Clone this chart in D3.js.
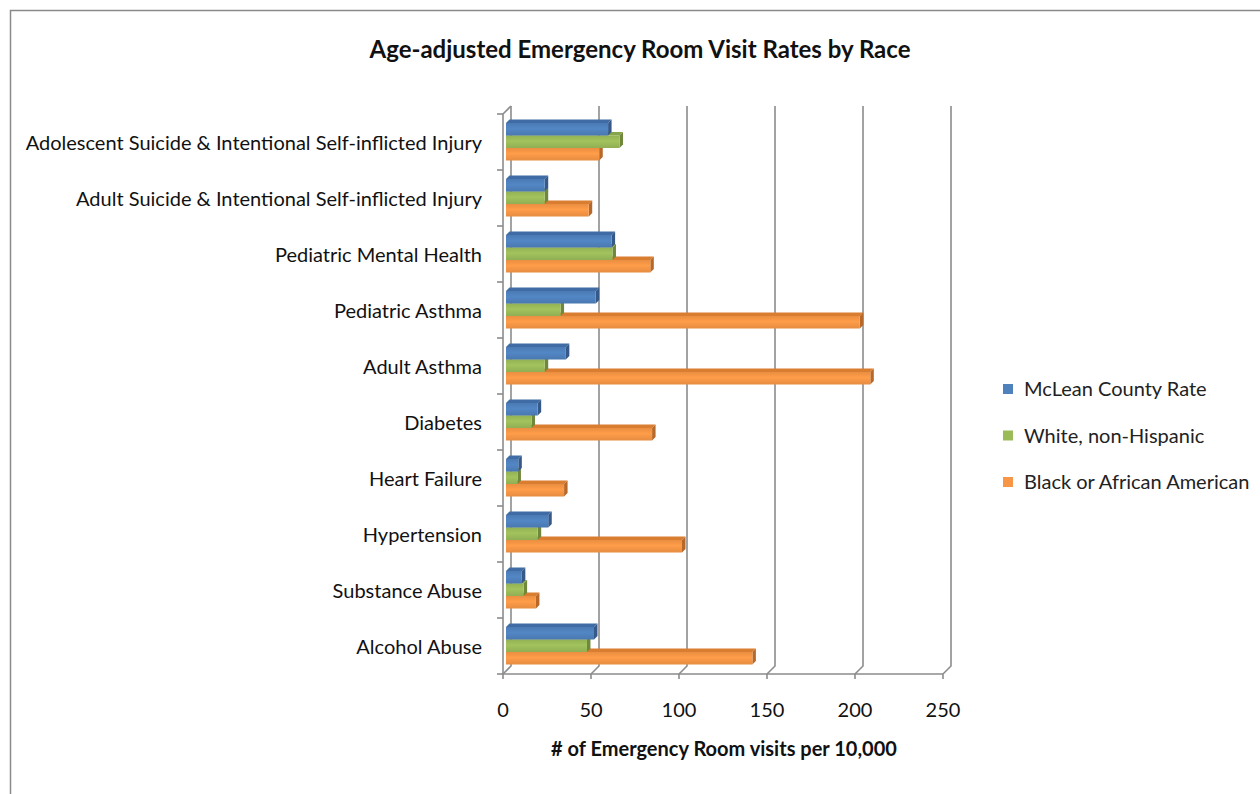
<!DOCTYPE html>
<html><head><meta charset="utf-8">
<script src="https://cdn.jsdelivr.net/npm/d3@7"></script>
<style>body{margin:0;background:#fff}svg{display:block}</style>
</head><body>
<svg id="c" width="1260" height="794"></svg>
<script>
const title = "Age-adjusted Emergency Room Visit Rates by Race";
const xTitle = "# of Emergency Room visits per 10,000";
const categories = ["Adolescent Suicide & Intentional Self-inflicted Injury","Adult Suicide & Intentional Self-inflicted Injury","Pediatric Mental Health","Pediatric Asthma","Adult Asthma","Diabetes","Heart Failure","Hypertension","Substance Abuse","Alcohol Abuse"];
const seriesNames = ["McLean County Rate","White, non-Hispanic","Black or African American"];
const mclean = [58,22,60,51,34,18,7,24,9,50];
const white = [64.5,22,60.5,31,22,14.5,6.5,18,10,46];
const black = [53,47,82,201,207,83,33,100,17,140];
const xTicks = [0,50,100,150,200,250];

const colors = ["#4f81bd","#9bbb59","#f79646"];
const sides = ["#36598a","#6f883c","#b8692a"];
const tops = ["#3f6ca5","#86a549","#d97d31"];
const series = [mclean, white, black];

const svg = d3.select("#c");
const defs = svg.append("defs");
colors.forEach((c,i)=>{
  const g = defs.append("linearGradient").attr("id","g"+i).attr("x1",0).attr("x2",0).attr("y1",0).attr("y2",1);
  const cc = d3.color(c);
  g.append("stop").attr("offset","0%").attr("stop-color",cc.darker(0.15));
  g.append("stop").attr("offset","45%").attr("stop-color",cc.brighter(0.12));
  g.append("stop").attr("offset","100%").attr("stop-color",cc.darker(0.2));
});

// outer border
svg.append("rect").attr("x",10.5).attr("y",10.5).attr("width",1300).attr("height",900)
  .attr("fill","none").attr("stroke","#8a8a8a").attr("stroke-width",1.5);

const x = d3.scaleLinear().domain([0,250]).range([503,943]);
const y = d3.scaleBand().domain(categories).range([114,674]);
const dx = 8, dy = -8; // wall depth
const bd = 3.5; // bar depth
const bz = 3;   // bar position in depth

const grid = svg.append("g").attr("stroke","#8c8c8c").attr("stroke-width",1.6).attr("fill","none");
xTicks.forEach(t=>{
  const px = x(t);
  grid.append("path").attr("d",`M${px+dx},${114+dy}V${674+dy}L${px},674V679`);
});
// front left axis
grid.append("path").attr("d",`M${x(0)},114V674H${x(250)}`);
grid.append("path").attr("d",`M${x(0)},114L${x(0)+dx},${114+dy}`);
categories.concat([null]).forEach((c,i)=>{
  const yy = 114 + i*y.step();
  grid.append("line").attr("x1",x(0)-6).attr("x2",x(0)).attr("y1",yy).attr("y2",yy);
});

// bars (draw bottom series first so upper bars cover hidden top faces)
const bars = svg.append("g");
const bh = 12.5, off = 9;
categories.forEach((c,ci)=>{
  [2,1,0].forEach(si=>{
    const v = series[si][ci];
    const x0 = x(0)+bz, x1 = x(v)+bz;
    const y0 = y(c)+off+si*bh, y1 = y0+bh;
    bars.append("path").attr("fill",tops[si])
      .attr("d",`M${x0},${y0}L${x0+bd},${y0-bd}L${x1+bd},${y0-bd}L${x1},${y0}Z`);
    bars.append("path").attr("fill",sides[si])
      .attr("d",`M${x1},${y0}L${x1+bd},${y0-bd}L${x1+bd},${y1-bd}L${x1},${y1}Z`);
    bars.append("rect").attr("x",x0).attr("y",y0).attr("width",x1-x0).attr("height",bh)
      .attr("fill",`url(#g${si})`);
  });
});

const font = "Lato, 'Open Sans', sans-serif";
// category labels
svg.append("g").selectAll("text").data(categories).join("text")
  .attr("x",482).attr("y",d=>y(d)+y.bandwidth()/2+3).attr("text-anchor","end")
  .attr("dominant-baseline","middle").attr("font-family",font).attr("font-size",20).attr("fill","#111")
  .text(d=>d);
// x tick labels
svg.append("g").selectAll("text").data(xTicks).join("text")
  .attr("x",d=>x(d)).attr("y",717).attr("text-anchor","middle").attr("font-family",font)
  .attr("font-size",20).attr("fill","#111").text(d=>d);
// title
svg.append("text").attr("x",640).attr("y",58).attr("text-anchor","middle").attr("font-family",font)
  .attr("font-weight","bold").attr("font-size",24).attr("fill","#111").text(title);
svg.append("text").attr("x",724).attr("y",756).attr("text-anchor","middle").attr("font-family",font)
  .attr("font-weight","bold").attr("font-size",20).attr("fill","#111").text(xTitle);

// legend
const lg = svg.append("g");
seriesNames.forEach((n,i)=>{
  const yy = 389 + i*46.5;
  lg.append("rect").attr("x",1003).attr("y",yy-5).attr("width",10).attr("height",10).attr("fill",colors[i]);
  lg.append("text").attr("x",1024).attr("y",yy+2).attr("dominant-baseline","middle").attr("font-family",font)
    .attr("font-size",20).attr("fill","#222").text(n);
});
</script>
</body></html>
